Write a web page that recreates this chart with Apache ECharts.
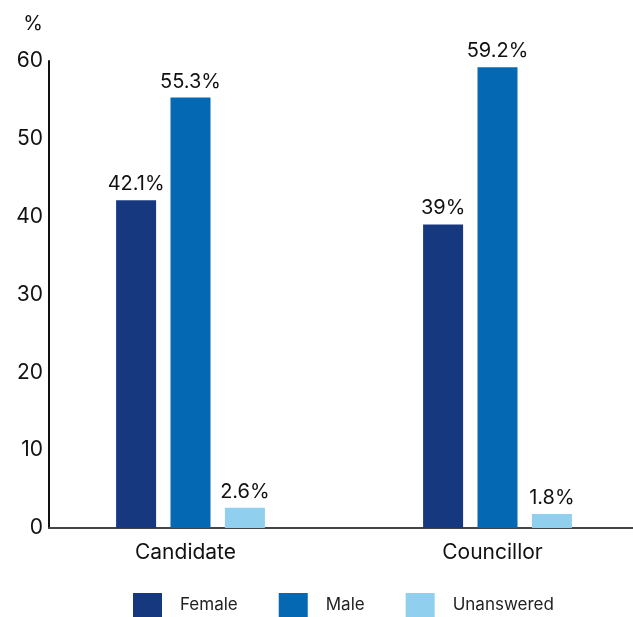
<!DOCTYPE html>
<html>
<head>
<meta charset="utf-8">
<script src="https://cdn.jsdelivr.net/npm/echarts@6/dist/echarts.min.js"></script>
<style>
  html, body { margin: 0; padding: 0; background: #fff; }
  #chart { width: 633px; height: 617px; }
</style>
</head>
<body>
<div id="chart"></div>
<script>
// Respondent groups along the x axis
const categories = ['Candidate', 'Councillor'];
// Share of each group by gender, in percent
const female = [42.1, 39];
const male = [55.3, 59.2];
const unanswered = [2.6, 1.8];
// Value axis range and step
const yMin = 0;
const yMax = 60;
const yStep = 10;

const FONT = 'Inter, "Noto Sans", Arial, sans-serif';
const colors = { female: '#15387f', male: '#0468b2', unanswered: '#90cfee' };

const chart = echarts.init(document.getElementById('chart'), null, { renderer: 'canvas' });

function barSeries(name, data, color) {
  return {
    name: name,
    type: 'bar',
    xAxisIndex: 1,
    yAxisIndex: 1,
    data: data,
    barWidth: 40,
    barGap: '36%',
    itemStyle: { color: color },
    label: {
      show: true,
      position: 'top',
      distance: 6,
      formatter: p => p.value + '%',
      color: '#111',
      fontFamily: FONT,
      fontSize: 20
    }
  };
}

chart.setOption({
  animation: false,
  backgroundColor: '#fff',
  textStyle: { fontFamily: FONT },
  legend: {
    bottom: 0,
    left: 133,
    padding: 0,
    itemWidth: 29,
    itemHeight: 24,
    itemGap: 41,
    icon: 'rect',
    textStyle: { fontSize: 17, color: '#222', fontFamily: FONT, padding: [0, 0, 0, 13] },
    data: ['Female', 'Male', 'Unanswered']
  },
  grid: [
    // axes frame
    { left: 49, right: 0, top: 61, bottom: 89, outerBoundsMode: 'none' },
    // bar placement, slightly wider than the visible frame
    { left: 37, width: 614, top: 61, bottom: 89, outerBoundsMode: 'none' }
  ],
  xAxis: [
    {
      gridIndex: 0,
      type: 'category',
      data: categories,
      axisLine: { show: true, lineStyle: { color: '#444', width: 2 } },
      axisTick: { show: false },
      axisLabel: { show: false }
    },
    {
      gridIndex: 1,
      type: 'category',
      data: categories,
      axisLine: { show: false },
      axisTick: { show: false },
      axisLabel: { color: '#111', fontSize: 21, fontFamily: FONT, margin: 14, padding: [0, 10, 0, 0] }
    }
  ],
  yAxis: [
    {
      gridIndex: 0,
      type: 'value',
      min: yMin,
      max: yMax,
      interval: yStep,
      name: '%',
      nameLocation: 'end',
      nameGap: 27,
      nameTextStyle: { color: '#111', fontSize: 20, fontFamily: FONT, align: 'right', padding: [0, 6, 0, 0] },
      axisLine: { show: true, lineStyle: { color: '#111', width: 2 } },
      axisTick: { show: false },
      splitLine: { show: false },
      axisLabel: { color: '#111', fontSize: 21, fontFamily: FONT, margin: 6 }
    },
    {
      gridIndex: 1,
      type: 'value',
      min: yMin,
      max: yMax,
      interval: yStep,
      show: false
    }
  ],
  series: [
    barSeries('Female', female, colors.female),
    barSeries('Male', male, colors.male),
    barSeries('Unanswered', unanswered, colors.unanswered)
  ]
});
</script>
</body>
</html>
